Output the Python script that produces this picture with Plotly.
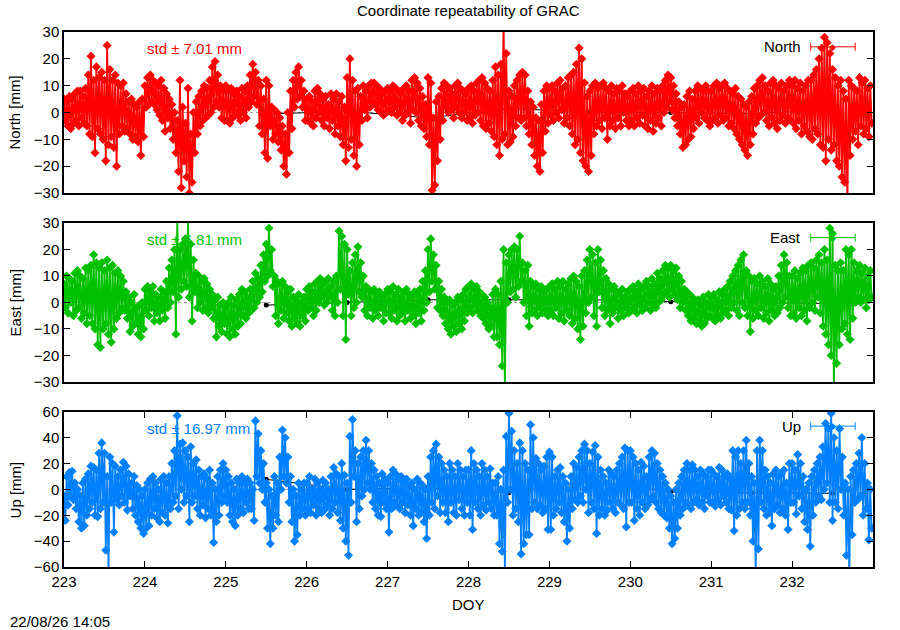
import plotly.graph_objects as go
from plotly.subplots import make_subplots

FIRST_DOY = 223

# North / East / Up residuals [mm], one list per day (DOY 223 ... 232),
# read as alternating upper / lower edge of the dense band
north_by_day = [
    [5, -3, 4, -5, 6, -6, 5, -4, 7, -3, 8, -5, 8, -2, 6, -4, 9, -5, 14, -8, 21, -9, 12, -15, 17, -6, 13, -8, 15, -10,
     12, -18, 25, -12, 16, -9, 12, -13, 14, -20, 11, -8, 10, -5, 11, -7, 7, -6, 4, -8, 5, -10, 3, -9, 2, -11, 4, -16, 5, -9],
    [10, 2, 13, 3, 14, 4, 12, 3, 11, 1, 10, -1, 12, -3, 9, -7, 7, -2, 5, -6, 3, -10, 0, -15, -3, -22, 12, -28, 2, -18,
     -4, -24, 9, -30, -8, -26, 0, -15, 4, -8, 6, -5, 8, -3, 10, -2, 9, -1, 12, 0, 17, 2, 19, 4, 14, 2, 10, -2, 8, -3],
    [10, -3, 8, -4, 9, -2, 7, 0, 8, -1, 6, -3, 9, 0, 8, -2, 10, 2, 14, 4, 18, 6, 15, 3, 12, -5, 10, -8, 5, -15,
     12, -17, 10, -5, 2, -10, 1, -8, 0, -11, -2, -14, -5, -20, -8, -23, 0, -15, 8, -6, 12, 2, 15, 5, 17, 6, 12, 2, 8, -3],
    [5, -3, 6, -4, 4, -5, 8, -2, 9, 0, 7, -3, 5, -5, 6, -2, 3, -6, 7, -3, 5, -8, 7, -5, 4, -9, 6, -12, 2, -18,
     13, -13, 20, -10, 12, -16, 8, -20, 9, -12, 6, -3, 10, 1, 8, -2, 10, 2, 11, 4, 11, 3, 10, 1, 9, 0, 7, -1, 8, 0],
    [9, 1, 8, 0, 10, 2, 9, -1, 8, 0, 7, -3, 9, -1, 10, 0, 8, -4, 12, 1, 13, 0, 11, -3, 9, -5, 6, -6, 3, -9,
     13, -12, 11, -29, -2, -27, 4, -18, 6, -10, 9, -3, 11, 2, 10, 0, 9, 1, 7, -2, 10, 2, 11, 0, 9, -2, 8, 0, 7, -3],
    [9, -2, 10, -4, 8, -1, 11, 0, 12, -3, 13, -5, 11, -6, 9, -4, 8, -7, 12, -9, 17, -12, 14, -16, 18, -10, 34, -8, 22, -12,
     8, -11, 6, -9, 10, -5, 12, -2, 14, -3, 15, -2, 14, -5, 8, -8, 4, -12, 2, -16, -2, -20, -3, -22, 3, -15, 8, -7, 10, -4],
    [9, -1, 10, -3, 8, 0, 11, -2, 12, 1, 9, -4, 10, -2, 13, -5, 14, -8, 15, -12, 18, -10, 24, -15, 20, -18, 11, -20, 6, -22,
     8, -16, 10, -8, 11, -5, 9, -3, 10, -6, 11, -2, 9, -10, 8, -5, 10, -3, 7, -6, 9, -2, 8, -5, 10, 0, 7, -3, 6, -5],
    [8, -3, 9, -5, 7, -2, 10, -4, 8, -1, 9, -5, 6, -6, 8, -3, 10, -7, 7, -4, 9, -2, 8, -5, 10, 0, 12, 2, 14, 4,
     13, 1, 10, -2, 7, -5, 4, -8, 2, -13, 3, -12, 6, -10, 8, -9, 5, -6, 8, -2, 10, -4, 9, 0, 8, -2, 10, -3, 8, -5],
    [8, -3, 10, -2, 11, -4, 9, -1, 10, -3, 11, -2, 9, -5, 8, -4, 7, -6, 9, -8, 6, -10, 5, -12, 3, -14, 2, -16, 4, -12,
     6, -8, 9, -4, 10, -2, 12, -1, 13, 0, 10, -3, 8, -5, 11, -2, 12, -4, 10, -6, 9, -3, 11, -1, 8, -4, 10, -2, 12, -3],
    [10, -4, 12, -6, 9, -3, 11, -8, 8, -5, 10, -7, 12, -9, 12, -10, 14, -6, 16, -8, 20, -12, 24, -13, 28, -18, 26, -10, 22, -14,
     16, -12, 13, -18, 10, -20, 12, -24, 8, -26, 5, -34, 12, -16, 10, -10, 9, -7, 8, -12, 13, -5, 11, -8, 12, -6, 9, -9, 10, -4],
]

east_by_day = [
    [7, -2, 10, -4, 9, 0, 8, -5, 11, -3, 12, -2, 10, -6, 9, -4, 13, -8, 12, -5, 14, -8, 18, -10, 15, -16, 13, -17, 15, -10,
     12, -8, 16, -12, 13, -15, 14, -10, 11, -6, 12, -4, 10, -2, 8, -3, 4, -6, 2, -11, 0, -9, 3, -8, -2, -12, -1, -13, 0, -10],
    [5, -3, 6, -5, 4, -2, 6, -7, 3, -4, 2, -7, 5, -3, 4, -6, 8, -2, 13, 0, 16, 4, 20, -12, 32, 2, 20, 5, 22, 8,
     24, 6, 32, 2, 22, -7, 16, 4, 11, -2, 10, 0, 8, -3, 9, -2, 7, -4, 5, -2, 3, -6, 1, -13, 2, -9, -1, -11, 0, -8],
    [-2, -12, 0, -13, 2, -10, -1, -12, 1, -9, 3, -8, 5, -5, 4, -6, 2, -4, 5, -3, 8, -2, 11, 0, 9, 2, 14, 4, 18, 8,
     22, 10, 28, 12, 20, 6, 10, -5, 8, -8, 7, -3, 8, -6, 6, -4, 4, -7, 5, -9, 2, -6, 1, -8, 3, -9, 0, -5, 2, -7],
    [5, -3, 6, -2, 4, -5, 7, -3, 8, 0, 9, 2, 7, -1, 8, 0, 9, 2, 6, -3, 8, -5, 10, 0, 27, 5, 25, -5, 22, -14,
     20, 3, 12, -5, 15, -2, 18, 0, 21, 4, 15, 2, 10, -3, 6, -5, 5, -2, 4, -6, 5, -3, 3, -5, 4, -2, 2, -7, 3, -4],
    [5, -4, 4, -6, 6, -3, 3, -7, 5, -5, 2, -4, 4, -7, 5, -3, 3, -6, 2, -5, 4, -8, 3, -4, 5, -7, 8, -3, 12, 0,
     20, 4, 24, 8, 18, 5, 14, -2, 8, -3, 5, -5, 2, -8, 0, -10, 1, -12, -1, -9, 0, -11, 2, -8, 1, -10, 3, -7, 5, -4],
    [6, -2, 7, -4, 5, -1, 6, -3, 4, -5, 3, -6, 2, -8, 0, -10, -2, -9, 3, -13, 5, -13, 3, -16, 8, -24, 20, -34, 15, 0,
     18, 4, 20, 5, 21, 2, 20, 6, 25, 8, 15, 0, 12, -5, 14, -9, 8, -4, 6, -3, 7, -5, 5, -2, 6, -4, 4, -3, 5, -5],
    [6, -3, 7, -5, 5, -2, 8, -6, 6, -4, 8, -7, 5, -3, 7, -5, 9, -8, 10, -6, 8, -10, 6, -14, 10, -9, 12, -4, 16, 0,
     20, 2, 18, -5, 15, -9, 20, 4, 16, -2, 12, -5, 9, -3, 7, -8, 5, -4, 6, -2, 4, -6, 3, -3, 5, -5, 2, -2, 4, -4],
    [5, -3, 6, -2, 4, -4, 7, -1, 5, -3, 6, -2, 8, 0, 6, -3, 9, -1, 7, -2, 11, 0, 9, 1, 12, 3, 14, 4, 13, 2,
     14, 5, 12, 3, 13, 1, 10, -2, 8, 0, 5, -3, 4, -5, 3, -7, 2, -6, 0, -8, 1, -7, -1, -9, 2, -8, 0, -6, 3, -5],
    [2, -6, 3, -7, 1, -5, 4, -6, 3, -4, 5, -3, 6, -5, 8, -2, 10, 0, 12, -3, 14, -5, 16, 0, 18, -2, 12, -5, 10, -11,
     8, -6, 9, -3, 7, -5, 10, -2, 8, -6, 6, -4, 9, -7, 7, -3, 5, -5, 6, -4, 10, -2, 14, 0, 18, 2, 15, -2, 10, -5],
    [10, -4, 12, -6, 9, -2, 11, -5, 13, -3, 12, -7, 14, -2, 15, 0, 13, -3, 16, 2, 18, -4, 15, -9, 20, -12, 16, -16, 28, -20,
     26, -34, 14, -23, 12, -16, 15, -10, 12, -8, 20, -12, 18, -14, 20, -6, 15, 0, 12, 2, 14, 0, 11, 1, 13, -2, 10, 1, 12, 2],
]

up_by_day = [
    [-5, -24, 10, -12, 13, -5, 14, -8, 5, -15, 0, -25, -5, -30, 5, -28, 8, -20, 12, -15, 18, -10, 17, -20, 15, -21, 28, -15, 36, -10,
     28, -47, 10, -65, 25, -10, 20, -33, 18, -8, 10, -12, 15, -5, 21, -10, 18, -16, 12, -5, 5, -15, 10, -20, 3, -25, 0, -30, -5, -34],
    [0, -30, 5, -28, 8, -20, 10, -15, 5, -22, 0, -25, 8, -18, 10, -20, 5, -26, 10, -15, 20, -10, 30, -5, 57, -15, 35, 0, 36, -10,
     30, -5, 25, -25, 33, -10, 20, -5, 23, -15, 15, -20, 10, -12, 12, -22, 8, -15, 15, -20, 5, -41, 0, -25, 10, -20, 15, -10, 20, -5],
    [15, -10, 10, -20, 5, -25, 0, -28, 8, -20, 5, -15, 10, -18, 5, -10, 8, -15, 5, -15, 0, -24, 53, 10, 43, 5, 30, 0, 20, -10,
     5, -30, 0, -42, -5, -30, 10, -20, 5, -25, 25, 0, 46, 10, 40, 5, 25, -10, 10, -25, 0, -40, -5, -35, 5, -20, 0, -15, 5, -20],
    [5, -15, 10, -18, 0, -12, 8, -20, 5, -15, 0, -18, 7, -16, 5, -12, 0, -20, 10, -15, 17, -10, 12, -18, 10, -24, 20, -30, 11, -40,
     5, -51, 41, -10, 54, 10, 30, -25, 20, -15, 25, -5, 30, 0, 38, 5, 30, 0, 20, -10, 15, -15, 10, -20, 5, -21, 12, -10, 8, -15],
    [5, -33, 10, -15, 15, -10, 12, -13, 8, -15, 10, -10, 5, -18, 8, -12, 3, -20, 5, -28, 0, -15, 8, -20, 5, -18, 3, -25, 0, -38,
     10, -20, 25, -10, 30, -15, 35, -5, 25, -18, 20, -10, 15, -18, 10, -25, 20, -10, 15, -18, 10, -20, 20, -8, 15, -15, 10, -20, 15, -10],
    [15, -20, 30, -31, 20, -10, 15, -15, 10, -20, 20, -12, 15, -16, 10, -10, 16, -15, 5, -20, 5, -20, 10, -42, 0, -48, 15, -65, 41, -10,
     59, 0, 45, -20, 30, -15, 20, -25, 36, -50, 30, -42, 20, -35, 15, -35, 50, -15, 40, -10, 24, -15, 20, -12, 15, -18, 18, -15, 25, -31],
    [29, -31, 25, -20, 10, -15, 15, -10, 17, -18, 10, -25, 5, -40, 0, -30, 10, -15, 20, -8, 17, -10, 25, -5, 30, -10, 35, 0, 30, -18,
     20, -10, 29, -15, 34, -34, 25, -20, 15, -15, 10, -20, 5, -16, 15, -10, 12, -15, 10, -18, 15, -10, 20, -12, 25, -15, 32, -29, 30, -10],
    [30, -10, 25, -24, 20, -15, 15, -20, 21, -10, 18, -15, 10, -12, 25, -8, 30, -5, 28, -10, 20, -15, 15, -18, 10, -20, 5, -22, 0, -30,
     -5, -42, -10, -38, 0, -30, 5, -20, 10, -15, 15, -10, 20, -12, 15, -15, 19, -10, 15, -8, 10, -12, 15, -10, 12, -15, 10, -5, 15, -10],
    [15, -10, 12, -13, 10, -8, 17, -12, 15, -5, 10, -10, 12, -15, 8, -16, 30, -32, 25, -20, 30, -15, 20, -10, 30, -15, 38, -10, 20, -20,
     10, -40, 5, -65, 30, -46, 38, -10, 30, -15, 15, -20, 10, -18, 5, -28, 12, -15, 15, -12, 10, -18, 12, -15, 15, -20, 5, -31, 20, -10],
    [20, -10, 15, -19, 27, -5, 20, -15, 10, -25, 0, -31, 5, -44, 10, -20, 15, -10, 20, -5, 25, -8, 33, 0, 51, 5, 47, -10, 59, -24,
     40, -10, 30, -15, 47, 0, 25, -20, 5, -51, 0, -65, 10, -35, 15, -10, 20, -8, 28, -5, 40, -20, 20, -15, 5, -39, 0, -30],
]

# daily solutions (black line)
daily_doy = [225.5, 226.5, 227.5, 228.5, 229.5, 230.5, 231.5, 232.5]
daily_north = [-0.6, 0.5, -2.0, 1.5, 0.2, 0.0, -0.4, 1.0]
daily_east = [-1.0, 0.0, 1.0, 1.0, 1.0, 0.3, 0.0, -0.4]
daily_up = [7.8, 0.0, 1.5, -2.6, 6.5, -2.0, -2.6, -3.0]

std_text = ["std \u00b1 7.01 mm", "std \u00b1 6.81 mm", "std \u00b1 16.97 mm"]
comp_names = ["North", "East", "Up"]
comp_colors = ["#ff0000", "#00c000", "#0080ff"]
y_ranges = [[-30, 30], [-30, 30], [-60, 60]]
y_dticks = [10, 10, 20]
y_domains = [[0.699, 1.0], [0.346, 0.643], [0.0, 0.290]]
doy_ticks = [223, 224, 225, 226, 227, 228, 229, 230, 231, 232]

FONT = "Liberation Sans, Arial, sans-serif"
FS = 15


def flatten_days(by_day):
    xs, ys = [], []
    for d, row in enumerate(by_day):
        n = len(row)
        xs += [FIRST_DOY + d + j / n for j in range(n)]
        ys += row
    return xs, ys


series = [flatten_days(north_by_day), flatten_days(east_by_day), flatten_days(up_by_day)]
dailies = [daily_north, daily_east, daily_up]

fig = make_subplots(rows=3, cols=1)

for i in range(3):
    row = i + 1
    fig.add_trace(
        go.Scatter(
            x=daily_doy, y=dailies[i], mode="lines+markers",
            line=dict(color="black", width=1),
            marker=dict(color="black", size=5),
            showlegend=False, hoverinfo="skip",
        ),
        row=row, col=1,
    )
    fig.add_trace(
        go.Scatter(
            x=series[i][0], y=series[i][1], mode="lines+markers", name=comp_names[i],
            line=dict(color=comp_colors[i], width=1.8),
            marker=dict(color=comp_colors[i], symbol="diamond", size=7),
            showlegend=False,
        ),
        row=row, col=1,
    )

    sfx = "" if i == 0 else str(row)
    xref_d = "x%s domain" % sfx
    yref_d = "y%s domain" % sfx

    # dotted zero axis
    fig.add_shape(type="line", xref=xref_d, yref="y%s" % sfx, x0=0, x1=1, y0=0, y1=0,
                  line=dict(color="#a0a0a0", width=1, dash="dot"), layer="below")

    # std label
    fig.add_annotation(xref=xref_d, yref=yref_d, x=0.1, y=0.895, text=std_text[i],
                       showarrow=False, xanchor="left", yanchor="middle",
                       font=dict(family=FONT, size=FS, color=comp_colors[i]))

    # key: name + errorbar sample
    ky = 0.908
    fig.add_annotation(xref=xref_d, yref=yref_d, x=0.913, y=ky, text=comp_names[i],
                       showarrow=False, xanchor="right", yanchor="middle",
                       font=dict(family=FONT, size=FS, color="black"))
    fig.add_shape(type="line", xref=xref_d, yref=yref_d, x0=0.923, x1=0.978, y0=ky, y1=ky,
                  line=dict(color=comp_colors[i], width=1))
    for xc in (0.923, 0.978):
        fig.add_shape(type="line", xref=xref_d, yref=yref_d, x0=xc, x1=xc, y0=ky - 0.025, y1=ky + 0.025,
                      line=dict(color=comp_colors[i], width=1))
    fig.add_annotation(xref=xref_d, yref=yref_d, x=0.9505, y=ky, text="\u25c6",
                       showarrow=False, xanchor="center", yanchor="middle",
                       font=dict(family="DejaVu Sans", size=9, color=comp_colors[i]))

    axis_common = dict(showline=True, linecolor="black", linewidth=1.5,
                       showgrid=False, zeroline=False)
    fig.update_xaxes(range=[223, 233], domain=[0, 1], tickvals=doy_ticks,
                     ticks="inside" if row == 3 else "", ticklen=6, tickcolor="black",
                     showticklabels=(row == 3), mirror="ticks" if row == 3 else True,
                     tickfont=dict(family=FONT, size=FS, color="black"),
                     **axis_common, row=row, col=1)
    fig.update_yaxes(range=y_ranges[i], domain=y_domains[i], dtick=y_dticks[i],
                     ticks="inside", ticklen=6, tickcolor="black", mirror="ticks",
                     tickfont=dict(family=FONT, size=FS, color="black"),
                     **axis_common, row=row, col=1)

    # y-axis title
    fig.add_annotation(xref="paper", yref=yref_d, x=-0.0606, y=0.5,
                       text="%s [mm]" % comp_names[i], textangle=-90, showarrow=False,
                       xanchor="center", yanchor="middle",
                       font=dict(family=FONT, size=FS, color="black"))

fig.add_annotation(xref="paper", yref="paper", x=0.5, y=1.041,
                   text="Coordinate repeatability of GRAC", showarrow=False,
                   xanchor="center", yanchor="middle",
                   font=dict(family=FONT, size=FS, color="black"))
fig.add_annotation(xref="paper", yref="paper", x=0.5, y=-0.071, text="DOY",
                   showarrow=False, xanchor="center", yanchor="middle",
                   font=dict(family=FONT, size=FS, color="black"))
fig.add_annotation(xref="paper", yref="paper", x=-0.069, y=-0.101, text="22/08/26 14:05",
                   showarrow=False, xanchor="left", yanchor="middle",
                   font=dict(family=FONT, size=FS, color="black"))

fig.update_layout(
    width=900, height=630,
    margin=dict(l=64, r=27, t=32, b=63),
    paper_bgcolor="white", plot_bgcolor="white",
    font=dict(family=FONT, size=FS, color="black"),
    showlegend=False,
)

# page body margin would push the 900x630 figure off the window
fig.write_html("out.html", config={"displayModeBar": False},
               post_script="document.body.style.margin='0px';")
